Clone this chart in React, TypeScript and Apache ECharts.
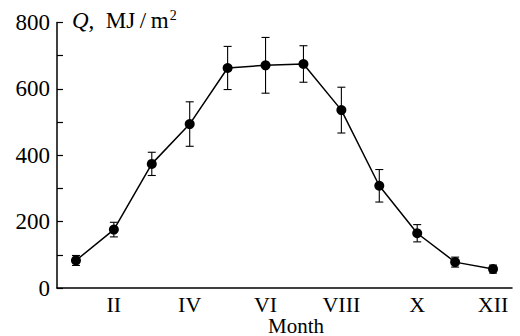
import React, { useEffect, useRef } from "react";
import * as echarts from "echarts";

const months = ["I", "II", "III", "IV", "V", "VI", "VII", "VIII", "IX", "X", "XI", "XII"];
const qValues = [83, 176, 374, 494, 663, 671, 675, 536, 308, 165, 78, 57];
const qErrors = [15, 22, 35, 67, 65, 84, 55, 69, 49, 26, 15, 12];
const yTicks = [0, 200, 400, 600, 800];

const FONT = "'Liberation Serif', 'DejaVu Serif', serif";

export default function App() {
  const ref = useRef<HTMLDivElement>(null);
  useEffect(() => {
    if (!ref.current) return;
    const chart = echarts.init(ref.current, null, { renderer: "svg" });
    const errData = months.map((_, i) => [i, qValues[i] - qErrors[i], qValues[i] + qErrors[i]]);
    chart.setOption({
      animation: false,
      backgroundColor: "#fff",
      grid: { left: 57, right: 8, top: 22.5, bottom: 48, containLabel: false },
      xAxis: {
        type: "category",
        data: months,
        boundaryGap: true,
        axisLine: { lineStyle: { color: "#000", width: 1.5 } },
        axisTick: { inside: true, alignWithLabel: true, interval: 0, length: 6, lineStyle: { color: "#000", width: 1.2 } },
        axisLabel: {
          interval: (i: number) => i % 2 === 1,
          color: "#000",
          fontFamily: FONT,
          fontSize: 22,
          margin: 5,
        },
        splitLine: { show: false },
      },
      yAxis: {
        type: "value",
        min: yTicks[0],
        max: yTicks[yTicks.length - 1],
        interval: 100,
        axisLine: { show: true, lineStyle: { color: "#000", width: 1.5 } },
        axisTick: { show: true, inside: true, length: 6, lineStyle: { color: "#000", width: 1.2 } },
        axisLabel: {
          color: "#000",
          fontFamily: FONT,
          fontSize: 23,
          margin: 7,
          formatter: (v: number) => (yTicks.includes(v) ? String(v) : ""),
        },
        splitLine: { show: false },
      },
      graphic: [
        {
          type: "text",
          left: 72,
          top: 8,
          style: {
            text: "{q|Q}{n|,  MJ\u2009/\u2009m}{s|2}",
            rich: {
              q: { fontFamily: FONT, fontSize: 23, fontStyle: "italic", fill: "#000" },
              n: { fontFamily: FONT, fontSize: 23, fill: "#000" },
              s: { fontFamily: FONT, fontSize: 14, fill: "#000", padding: [0, 0, 10, 1] },
            },
          },
        },
        {
          type: "text",
          x: 296,
          y: 315,
          style: {
            text: "Month",
            fontFamily: FONT,
            fontSize: 21,
            fill: "#000",
            align: "center",
            verticalAlign: "top",
          },
        },
      ],
      series: [
        {
          type: "custom",
          data: errData,
          z: 1,
          renderItem: (params: any, api: any) => {
            const x = api.value(0);
            const lo = api.coord([x, api.value(1)]);
            const hi = api.coord([x, api.value(2)]);
            const cap = 4;
            const style = { stroke: "#000", lineWidth: 1.1 };
            return {
              type: "group",
              children: [
                { type: "line", shape: { x1: lo[0], y1: lo[1], x2: hi[0], y2: hi[1] }, style },
                { type: "line", shape: { x1: lo[0] - cap, y1: lo[1], x2: lo[0] + cap, y2: lo[1] }, style },
                { type: "line", shape: { x1: hi[0] - cap, y1: hi[1], x2: hi[0] + cap, y2: hi[1] }, style },
              ],
            };
          },
        },
        {
          type: "line",
          data: qValues,
          z: 2,
          symbol: "circle",
          symbolSize: 10,
          lineStyle: { color: "#000", width: 1.5 },
          itemStyle: { color: "#000" },
        },
      ],
    });
    return () => chart.dispose();
  }, []);
  return <div ref={ref} style={{ position: "fixed", left: 0, top: 0, width: 520, height: 336 }} />;
}
